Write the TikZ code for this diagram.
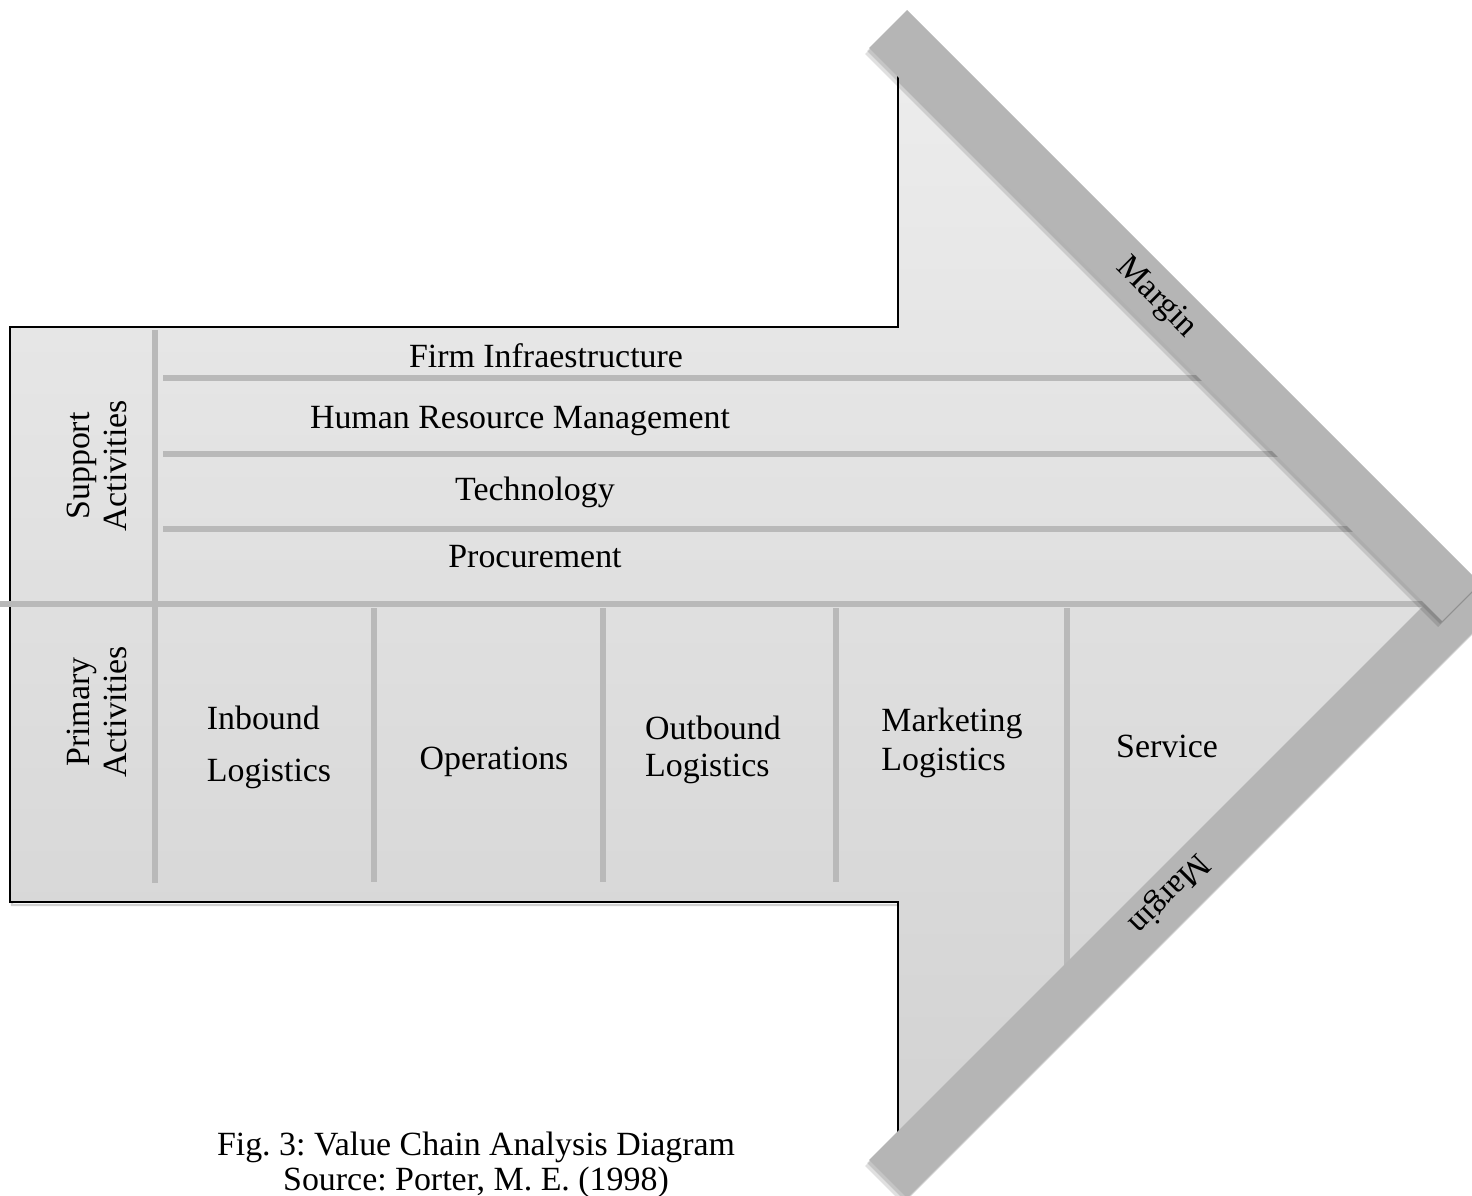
\documentclass[tikz,border=0pt]{standalone}
\usepackage{fontspec}
\setmainfont{Liberation Serif}
\usetikzlibrary{positioning}
\usepackage{xcolor}
\frenchspacing

\definecolor{arrowtop}{HTML}{EDEDED}
\definecolor{arrowbot}{HTML}{D2D2D2}
\definecolor{rulegray}{HTML}{B9B9B9}
\definecolor{bargray}{HTML}{B5B5B5}

\begin{document}
\begin{tikzpicture}[x=0.02cm, y=-0.02cm,
    chaintext/.style={font=\fontsize{19.3}{21}\selectfont, align=center, inner sep=0pt},
    divider/.style={draw=rulegray, line width=3.4pt},
    marginbar/.style={fill=bargray},
    barshadow/.style={fill=black, opacity=0.12}]
  \clip (0,0) rectangle (1472,1196);

  % arrow body with its thin shadow
  \draw[black!18, line width=1.4pt, shift={(2,3)}]
    (10,327) -- (898,327) -- (898,40) -- (1459,601) -- (898,1162) -- (898,902) -- (10,902) -- cycle;
  \draw[line width=1.1pt, top color=arrowtop, bottom color=arrowbot]
    (10,327) -- (898,327) -- (898,40) -- (1459,601) -- (898,1162) -- (898,902) -- (10,902) -- cycle;

  % dividers
  \draw[divider] (155,330) -- (155,883);
  \draw[divider] (0,604) -- (1425,604);
  \foreach \y/\xe in {378/1220, 454/1300, 529/1370}
    \draw[divider] (163,\y) -- (\xe,\y);
  \foreach \x in {374,603,836}
    \draw[divider] (\x,608) -- (\x,882);
  \draw[divider] (1067,608) -- (1067,965);

  % support activities
  \node[chaintext] (firm) at (546,356) {Firm Infraestructure};
  \node[chaintext] (hrm)  at (520,421) {Human Resource Management};
  \node[chaintext] (tech) at (535,492) {Technology};
  \node[chaintext] (proc) at (535,557) {Procurement};
  \node[chaintext, rotate=90] (support) at (97,466) {Support\\Activities};

  % primary activities
  \node[chaintext, rotate=90] (primary) at (97,712) {Primary\\Activities};
  \node[chaintext, align=left, font=\fontsize{19.3}{29.5}\selectfont] (inbound) at (269,747) {Inbound\\Logistics};
  \node[chaintext] (operations) at (494,762) {Operations};
  \node[chaintext, align=left] (outbound) at (713,750) {Outbound\\Logistics};
  \node[chaintext, align=left, font=\fontsize{19.3}{22.5}\selectfont] (marketing) at (952,743) {Marketing\\Logistics};
  \node[chaintext] (service) at (1167,746) {Service};

  % margin bars
  \fill[barshadow, shift={(-2,3)}] (869,1160) -- (1460,569) -- (1498,607) -- (907,1198) -- cycle;
  \fill[barshadow, shift={(-4,6)}] (869,1160) -- (1460,569) -- (1498,607) -- (907,1198) -- cycle;
  \fill[marginbar] (869,1160) -- (1460,569) -- (1498,607) -- (907,1198) -- cycle;
  \fill[barshadow, shift={(-2,3)}] (869,48) -- (907,10) -- (1480,583) -- (1442,621) -- cycle;
  \fill[barshadow, shift={(-4,6)}] (869,48) -- (907,10) -- (1480,583) -- (1442,621) -- cycle;
  \fill[marginbar] (869,48) -- (907,10) -- (1480,583) -- (1442,621) -- cycle;
  \node[chaintext, rotate=-45] (margintop) at (1156,298) {Margin};
  \node[chaintext, rotate=225] (marginbot) at (1168,893) {Margin};

  % caption
  \node[chaintext, font=\fontsize{19.3}{20}\selectfont] (caption) at (476,1165)
    {Fig. 3: Value Chain Analysis Diagram\\Source: Porter, M. E. (1998)};
\end{tikzpicture}
\end{document}
